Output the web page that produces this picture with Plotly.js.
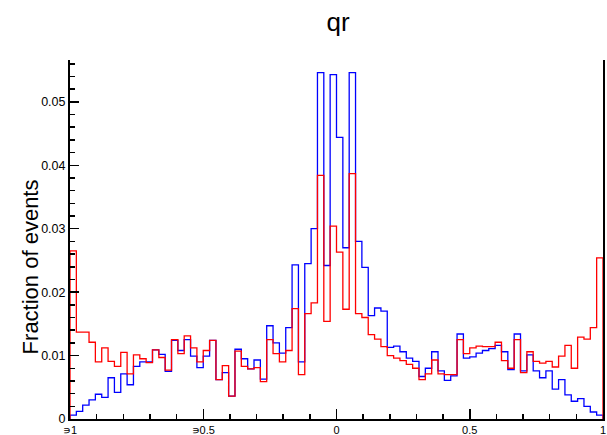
<!DOCTYPE html>
<html>
<head>
<meta charset="utf-8">
<script src="https://cdn.plot.ly/plotly-3.0.1.min.js"></script>
<style>html,body{margin:0;padding:0;background:#fff;}#chart{width:607px;height:435px;}</style>
</head>
<body>
<div id="chart"></div>
<script>
// Histogram: 84 bins over [-1, 1]
const xMin = -1, xMax = 1, nBins = 84;

const blueValues = [
  0.0006, 0.0012, 0.0022, 0.0030, 0.0039, 0.0034, 0.0065, 0.0042, 0.0071, 0.0054,
  0.0083, 0.0090, 0.0090, 0.0109, 0.0102, 0.0075, 0.0124, 0.0108, 0.0125, 0.0099,
  0.0081, 0.0099, 0.0124, 0.0062, 0.0073, 0.0036, 0.0110, 0.0095, 0.0079, 0.0093,
  0.0063, 0.0147, 0.0120, 0.0104, 0.0144, 0.0243, 0.0090, 0.0245, 0.0300, 0.0546,
  0.0242, 0.0543, 0.0444, 0.0270, 0.0546, 0.0280, 0.0239, 0.0163, 0.0175, 0.0170,
  0.0113, 0.0115, 0.0106, 0.0096, 0.0091, 0.0067, 0.0080, 0.0106, 0.0076, 0.0061,
  0.0068, 0.0134, 0.0096, 0.0098, 0.0104, 0.0108, 0.0111, 0.0116, 0.0106, 0.0078,
  0.0134, 0.0076, 0.0101, 0.0076, 0.0065, 0.0076, 0.0047, 0.0062, 0.0038, 0.0028,
  0.0032, 0.0020, 0.0011, 0.0006
];

const redValues = [
  0.0265, 0.0137, 0.0137, 0.0121, 0.0090, 0.0112, 0.0091, 0.0083, 0.0105, 0.0071,
  0.0101, 0.0095, 0.0089, 0.0109, 0.0097, 0.0077, 0.0125, 0.0103, 0.0131, 0.0112,
  0.0090, 0.0108, 0.0124, 0.0062, 0.0084, 0.0036, 0.0107, 0.0083, 0.0079, 0.0081,
  0.0059, 0.0125, 0.0103, 0.0090, 0.0108, 0.0174, 0.0070, 0.0166, 0.0183, 0.0384,
  0.0154, 0.0304, 0.0263, 0.0173, 0.0387, 0.0166, 0.0160, 0.0133, 0.0126, 0.0114,
  0.0100, 0.0096, 0.0092, 0.0086, 0.0080, 0.0062, 0.0071, 0.0093, 0.0071, 0.0070,
  0.0070, 0.0125, 0.0103, 0.0112, 0.0115, 0.0114, 0.0114, 0.0121, 0.0092, 0.0080,
  0.0125, 0.0073, 0.0106, 0.0091, 0.0088, 0.0091, 0.0082, 0.0099, 0.0116, 0.0080,
  0.0129, 0.0126, 0.0144, 0.0254
];

const xTickVals = [-1, -0.5, 0, 0.5, 1];
const xTickText = ["\u220D1", "\u220D0.5", "0", "0.5", "1"];
const yTickVals = [0, 0.01, 0.02, 0.03, 0.04, 0.05];
const yTickText = ["0", "0.01", "0.02", "0.03", "0.04", "0.05"];

const titleText = "qr";
const yTitleText = "Fraction of events";

function stepOutline(vals) {
  const w = (xMax - xMin) / nBins;
  const xs = [xMin], ys = [0];
  for (let i = 0; i < vals.length; i++) {
    xs.push(xMin + i * w);
    ys.push(vals[i]);
  }
  xs.push(xMax); ys.push(vals[vals.length - 1]);
  xs.push(xMax); ys.push(0);
  return {xs, ys};
}

const b = stepOutline(blueValues);
const r = stepOutline(redValues);

const traces = [
  {x: b.xs, y: b.ys, type: 'scatter', mode: 'lines', line: {shape: 'hv', color: '#0000ff', width: 1.3}, hoverinfo: 'skip', cliponaxis: false},
  {x: r.xs, y: r.ys, type: 'scatter', mode: 'lines', line: {shape: 'hv', color: '#ff0000', width: 1.3}, hoverinfo: 'skip', cliponaxis: false}
];

const font = "Liberation Sans, Arial, sans-serif";

const layout = {
  width: 607, height: 435,
  margin: {l: 70, r: 4, t: 60, b: 16, pad: 0},
  paper_bgcolor: '#fff', plot_bgcolor: '#fff',
  showlegend: false,
  font: {family: font, color: '#000'},
  title: {text: titleText, font: {family: font, size: 26, color: '#000'}, x: 0.557, xref: 'container', xanchor: 'center', y: 0.95, yref: 'container', yanchor: 'middle'},
  xaxis: {
    range: [xMin, xMax], showgrid: false, zeroline: false,
    showline: true, linecolor: '#000', linewidth: 2,
    tickmode: 'array', tickvals: xTickVals, ticktext: xTickText,
    ticks: 'inside', ticklen: 10, tickwidth: 1.5, tickcolor: '#000',
    tickfont: {family: font, size: 11, color: '#000'},
    ticklabeloverflow: 'allow',
    minor: {tickmode: 'linear', tick0: -1, dtick: 0.1, ticks: 'inside', ticklen: 5, tickwidth: 1.5, tickcolor: '#000', showgrid: false},
    automargin: false, fixedrange: true
  },
  yaxis: {
    range: [0, 0.0566], showgrid: false, zeroline: false,
    showline: true, linecolor: '#000', linewidth: 2, mirror: true,
    tickmode: 'array', tickvals: yTickVals, ticktext: yTickText,
    ticks: 'inside', ticklen: 9, tickwidth: 1.5, tickcolor: '#000',
    tickfont: {family: font, size: 12.5, color: '#000'},
    ticklabeloverflow: 'allow',
    minor: {tickmode: 'linear', tick0: 0, dtick: 0.002, ticks: 'inside', ticklen: 5, tickwidth: 1.5, tickcolor: '#000', showgrid: false},
    automargin: false, fixedrange: true
  },
  annotations: [{
    text: yTitleText, textangle: -90, showarrow: false,
    xref: 'paper', yref: 'paper', x: -0.0746, y: 0.423,
    xanchor: 'center', yanchor: 'middle',
    font: {family: font, size: 22, color: '#000'}
  }]
};

Plotly.newPlot('chart', traces, layout, {staticPlot: true, displayModeBar: false});
</script>
</body>
</html>
